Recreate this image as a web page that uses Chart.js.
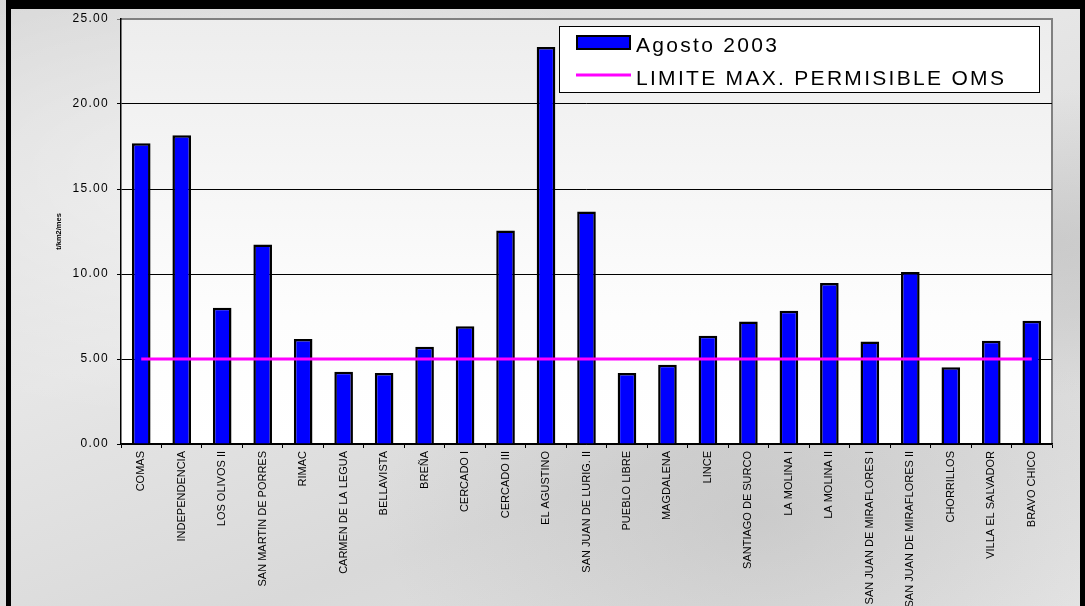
<!DOCTYPE html>
<html>
<head>
<meta charset="utf-8">
<script src="https://cdn.jsdelivr.net/npm/chart.js@4/dist/chart.umd.min.js"></script>
<style>
  html, body { margin: 0; padding: 0; }
  body { width: 1085px; height: 606px; overflow: hidden;
    background:
      radial-gradient(ellipse at 20% 30%, rgba(255,255,255,0.5), rgba(255,255,255,0) 40%),
      radial-gradient(ellipse at 70% 85%, rgba(150,150,150,0.25), rgba(150,150,150,0) 35%),
      radial-gradient(ellipse at 95% 40%, rgba(160,160,160,0.3), rgba(160,160,160,0) 30%),
      linear-gradient(160deg, #d6d6d6 0%, #e6e6e6 40%, #d9d9d9 70%, #e4e4e4 100%);
  }
  #wrap { position: absolute; left: 0; top: 0; width: 1085px; height: 606px; }
</style>
</head>
<body>
<div id="wrap"><canvas id="c" width="1085" height="606"></canvas></div>
<script>
const categories = [
  "COMAS", "INDEPENDENCIA", "LOS OLIVOS II", "SAN MARTIN DE PORRES", "RIMAC",
  "CARMEN DE LA LEGUA", "BELLAVISTA", "BREÑA", "CERCADO I", "CERCADO III",
  "EL AGUSTINO", "SAN JUAN DE LURIG. II", "PUEBLO LIBRE", "MAGDALENA", "LINCE",
  "SANTIAGO DE SURCO", "LA MOLINA I", "LA MOLINA II", "SAN JUAN DE MIRAFLORES I",
  "SAN JUAN DE MIRAFLORES II", "CHORRILLOS", "VILLA EL SALVADOR", "BRAVO CHICO"
];
const agosto2003 = [
  17.69, 18.16, 8.02, 11.73, 6.17,
  4.25, 4.17, 5.72, 6.92, 12.56,
  23.35, 13.68, 4.17, 4.66, 6.37,
  7.21, 7.84, 9.47, 6.03,
  10.12, 4.52, 6.07, 7.25
];
const limiteOMS = [5, 5, 5, 5, 5, 5, 5, 5, 5, 5, 5, 5, 5, 5, 5, 5, 5, 5, 5, 5, 5, 5, 5];
const seriesLabels = ["Agosto 2003", "LIMITE MAX. PERMISIBLE OMS"];
const yTicks = [0, 5, 10, 15, 20, 25];
const yTitle = "t/km2/mes";

const frameAndPlot = {
  id: 'frameAndPlot',
  beforeDraw(chart) {
    const ctx = chart.ctx, a = chart.chartArea;
    ctx.save();
    ctx.fillStyle = '#000';
    ctx.fillRect(6, 0, 1085 - 6, 9);
    ctx.fillRect(6, 0, 5, 606);
    ctx.fillRect(1080, 0, 5, 606);
    const g = ctx.createLinearGradient(0, a.top, 0, a.bottom);
    g.addColorStop(0, '#ededed');
    g.addColorStop(0.7, '#fdfdfd');
    g.addColorStop(1, '#ffffff');
    ctx.fillStyle = g;
    ctx.fillRect(a.left, a.top, a.right - a.left, a.bottom - a.top);
    ctx.strokeStyle = '#808080';
    ctx.lineWidth = 2;
    ctx.beginPath();
    ctx.moveTo(a.left, a.top);
    ctx.lineTo(a.right, a.top);
    ctx.lineTo(a.right, a.bottom);
    ctx.stroke();
    ctx.restore();
    const ys = chart.scales.y;
    if (ys && !ys._patched) {
      const orig = ys.drawLabels;
      ys.drawLabels = function (area) {
        const c = this.ctx;
        c.save();
        c.letterSpacing = '1.3px';
        orig.call(this, area);
        c.restore();
      };
      ys._patched = true;
    }
  }
};

const boxLegend = {
  id: 'boxLegend',
  afterDraw(chart) {
    const ctx = chart.ctx;
    const ds = chart.data.datasets;
    const bar = ds.find(d => d.type === 'bar');
    const line = ds.find(d => d.type === 'line');
    ctx.save();
    const x0 = 559, y0 = 26, w = 480, h = 66;
    ctx.fillStyle = '#fff';
    ctx.fillRect(x0, y0, w, h);
    ctx.strokeStyle = '#000';
    ctx.lineWidth = 1;
    ctx.strokeRect(x0 + 0.5, y0 + 0.5, w, h);
    ctx.fillStyle = bar.backgroundColor;
    ctx.fillRect(577, 36, 53, 13);
    ctx.lineWidth = 2;
    ctx.strokeStyle = '#000';
    ctx.strokeRect(577, 36, 53, 13);
    ctx.strokeStyle = line.borderColor;
    ctx.lineWidth = 3;
    ctx.beginPath();
    ctx.moveTo(576, 75);
    ctx.lineTo(631, 75);
    ctx.stroke();
    ctx.fillStyle = '#000';
    ctx.font = '21px "Liberation Sans", Arial, sans-serif';
    ctx.letterSpacing = '2.3px';
    ctx.textBaseline = 'alphabetic';
    ctx.textAlign = 'left';
    ctx.fillText(bar.label, 636, 52);
    ctx.fillText(line.label, 636, 85);
    ctx.restore();
  }
};

new Chart(document.getElementById('c'), {
  data: {
    labels: categories,
    datasets: [
      {
        type: 'line',
        label: seriesLabels[1],
        data: limiteOMS,
        borderColor: '#ff00ff',
        backgroundColor: '#ff00ff',
        borderWidth: 3,
        pointRadius: 0,
        fill: false,
        order: 0
      },
      {
        type: 'bar',
        label: seriesLabels[0],
        data: agosto2003,
        backgroundColor: '#0000ff',
        borderColor: '#000000',
        borderWidth: 2.5,
        barPercentage: 0.46,
        categoryPercentage: 1,
        order: 1
      }
    ]
  },
  options: {
    responsive: false,
    animation: false,
    events: [],
    layout: { padding: { left: 0, top: 19, right: 33, bottom: 0 } },
    plugins: { legend: { display: false }, tooltip: { enabled: false } },
    scales: {
      x: {
        type: 'category',
        offset: true,
        grid: {
          offset: true,
          drawOnChartArea: false,
          drawTicks: true,
          tickLength: 4,
          color: '#000'
        },
        border: { color: '#000', width: 1.5 },
        ticks: {
          autoSkip: false,
          minRotation: 90,
          maxRotation: 90,
          padding: 3,
          color: '#000',
          font: { family: '"Liberation Sans", Arial, sans-serif', size: 11 }
        },
        afterFit(s) { s.height = 162; }
      },
      y: {
        min: 0,
        max: 25,
        afterBuildTicks(s) { s.ticks = yTicks.map(v => ({ value: v })); },
        grid: {
          color: (c) => (c.tick && c.tick.value === 25 ? '#808080' : '#000'),
          lineWidth: 1,
          tickLength: 4,
          drawTicks: true
        },
        border: { color: '#000', width: 1.5 },
        ticks: {
          padding: 8,
          color: '#000',
          font: { family: '"Liberation Sans", Arial, sans-serif', size: 12 },
          callback: (v) => Number(v).toFixed(2)
        },
        title: {
          display: true,
          text: yTitle,
          color: '#000',
          font: { family: '"Liberation Sans", Arial, sans-serif', size: 7.5, weight: 'bold' },
          padding: { top: 54, bottom: 0 }
        },
        afterFit(s) { s.width = 121; }
      }
    }
  },
  plugins: [frameAndPlot, boxLegend]
});
</script>
</body>
</html>
